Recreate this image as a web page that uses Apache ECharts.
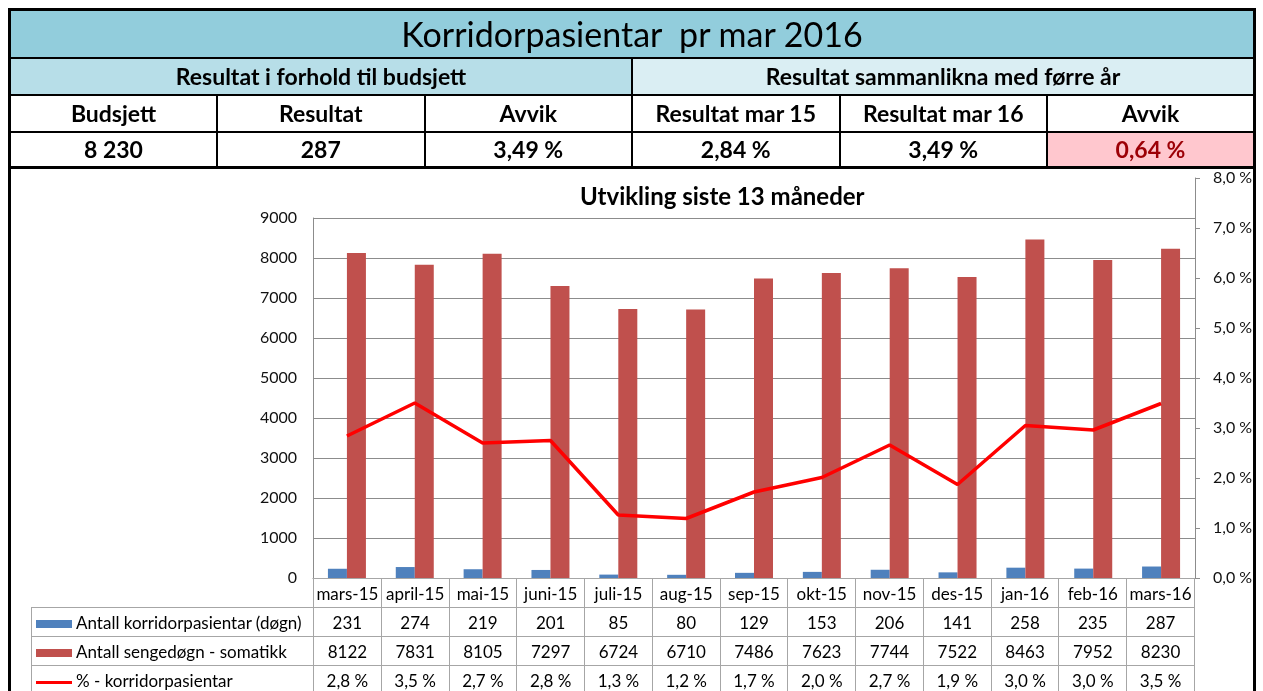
<!DOCTYPE html>
<html>
<head>
<meta charset="utf-8">
<script src="https://cdn.jsdelivr.net/npm/echarts@6/dist/echarts.min.js"></script>
<style>
  html, body { margin:0; padding:0; background:#fff; }
  body { width:1263px; height:691px; overflow:hidden; position:relative; font-family:Lato, 'Open Sans', sans-serif; color:#000; }
  #chart { position:absolute; left:0; top:0; width:1263px; height:691px; }
  #frame { position:absolute; left:8px; top:160px; width:1242px; height:560px; border-left:3px solid #000; border-right:3px solid #000; }
  /* top summary table */
  #summary { position:absolute; left:8px; top:8px; width:1248px; border-collapse:collapse; table-layout:fixed; border:3px solid #000; }
  #summary td { border:2px solid #000; text-align:center; padding:0; font-weight:bold; font-size:23px; line-height:1; }
  #summary tr.t td { height:46px; background:#92CDDC; font-weight:normal; font-size:34px; white-space:pre; }
  #summary tr.s td { height:35px; }
  #summary tr.h td { height:35px; }
  #summary tr.v td { height:33px; }
  .bud { background:#B7DEE8; }
  .prev { background:#DAEEF3; }
  .bad { background:#FFC7CE; color:#9C0006; }
  /* data table under the chart */
  #data { position:absolute; left:31px; top:578px; width:1164px; border-collapse:collapse; table-layout:fixed; }
  #data td { border:1px solid #A6A6A6; text-align:center; padding:0; font-size:17px; height:28px; white-space:nowrap; overflow:hidden; }
  #data td.leg { text-align:left; padding-left:4px; }
  #data tr.cat td.blank { border:none; }
  .sw { display:inline-block; width:36px; vertical-align:middle; margin-right:4px; }
</style>
</head>
<body>
<div id="frame"></div>
<div id="chart"></div>
<table id="summary"></table>
<table id="data"></table>
<script>
/* kategoriar og tal */
const CATS = ['mars-15','april-15','mai-15','juni-15','juli-15','aug-15','sep-15','okt-15','nov-15','des-15','jan-16','feb-16','mars-16']
const KORRIDOR  = [231, 274, 219, 201, 85, 80, 129, 153, 206, 141, 258, 235, 287]
const SENGEDOGN = [8122, 7831, 8105, 7297, 6724, 6710, 7486, 7623, 7744, 7522, 8463, 7952, 8230]
const PROSENT   = [2.84, 3.50, 2.70, 2.75, 1.26, 1.19, 1.72, 2.01, 2.66, 1.87, 3.05, 2.96, 3.49]
const PROSENT_TXT = ['2,8 %','3,5 %','2,7 %','2,8 %','1,3 %','1,2 %','1,7 %','2,0 %','2,7 %','1,9 %','3,0 %','3,0 %','3,5 %']

const SERIES_NAMES = ['Antall korridorpasientar (døgn)', 'Antall sengedøgn - somatikk', '% - korridorpasientar']
const COLORS = ['#4F81BD', '#C0504D', '#FF0000']

/* toppTabell */
const HEAD_LABELS = ['Budsjett','Resultat','Avvik','Resultat mar 15','Resultat mar 16','Avvik']
const HEAD_VALUES = ['8 230','287','3,49 %','2,84 %','3,49 %','0,64 %']

/* --- oppsummering --- */
const sum = document.getElementById('summary')
sum.innerHTML =
  '<colgroup>' + HEAD_LABELS.map(()=>'<col>').join('') + '</colgroup>' +
  '<tr class="t"><td colspan="6">Korridorpasientar  pr mar 2016</td></tr>' +
  '<tr class="s"><td colspan="3" class="bud">Resultat i forhold til budsjett</td>' +
  '<td colspan="3" class="prev">Resultat sammanlikna med førre år</td></tr>' +
  '<tr class="h">' + HEAD_LABELS.map(t=>`<td>${t}</td>`).join('') + '</tr>' +
  '<tr class="v">' + HEAD_VALUES.map((t,i)=>`<td${i===5?' class="bad"':''}>${t}</td>`).join('') + '</tr>'

/* --- datatabell --- */
const swatch = i => i < 2
  ? `<span class="sw" style="height:8px;background:${COLORS[i]}"></span>`
  : `<span class="sw" style="height:3px;background:${COLORS[i]}"></span>`
const rows = [KORRIDOR, SENGEDOGN, PROSENT_TXT]
const tbl = document.getElementById('data')
tbl.innerHTML =
  '<colgroup><col style="width:282px">' + CATS.map(()=>'<col>').join('') + '</colgroup>' +
  '<tr class="cat"><td class="blank"></td>' + CATS.map(c=>`<td>${c}</td>`).join('') + '</tr>' +
  rows.map((r,i)=>'<tr><td class="leg">' + swatch(i) + SERIES_NAMES[i] + '</td>' +
    r.map(v=>`<td>${v}</td>`).join('') + '</tr>').join('')

/* --- graf --- */
const chart = echarts.init(document.getElementById('chart'))
const axisGray = '#8C8C8C'
const labelFont = { fontFamily:'Lato', fontSize:16, color:'#111' }

chart.setOption({
  animation: false,
  title: {
    text: 'Utvikling siste 13 måneder',
    left: 575, top: 180,
    textStyle: { fontFamily:'Lato', fontWeight:'bold', fontSize:24, color:'#000' }
  },
  grid: [
    { left:313, right:68, top:218, bottom:113 },   // stolpar
    { left:313, right:68, top:178, bottom:113 }    // prosentlinje
  ],
  xAxis: [
    { type:'category', gridIndex:0, data:CATS,
      axisLabel:{ show:false }, axisTick:{ show:false },
      axisLine:{ lineStyle:{ color:axisGray } } },
    { type:'category', gridIndex:1, data:CATS, show:false }
  ],
  yAxis: [
    { type:'value', gridIndex:0, min:0, max:9000, interval:1000,
      axisLine:{ show:true, lineStyle:{ color:axisGray } },
      axisTick:{ show:false },
      axisLabel:{ ...labelFont, margin:16, formatter: v => String(v) },
      splitLine:{ lineStyle:{ color:axisGray } } },
    { type:'value', gridIndex:1, position:'right', min:0, max:8, interval:1,
      axisLine:{ show:true, lineStyle:{ color:axisGray } },
      axisTick:{ show:true, length:5, lineStyle:{ color:axisGray } },
      axisLabel:{ ...labelFont, margin:18, formatter: v => v.toFixed(1).replace('.', ',') + ' %' },
      splitLine:{ show:false } }
  ],
  series: [
    { name:SERIES_NAMES[0], type:'bar', data:KORRIDOR, barWidth:19, barGap:'0%',
      itemStyle:{ color:COLORS[0] } },
    { name:SERIES_NAMES[1], type:'bar', data:SENGEDOGN, barWidth:19, barGap:'0%',
      itemStyle:{ color:COLORS[1] } },
    { name:SERIES_NAMES[2], type:'line', data:PROSENT, xAxisIndex:1, yAxisIndex:1,
      symbol:'none', lineStyle:{ color:COLORS[2], width:3.5 } }
  ]
})
</script>
</body>
</html>
